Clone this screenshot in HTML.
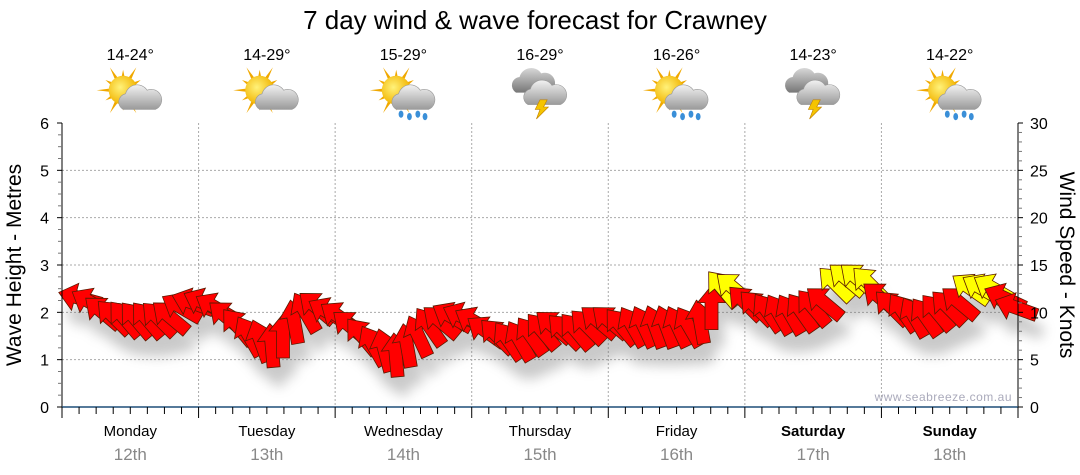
<!DOCTYPE html>
<html><head><meta charset="utf-8"><style>
body{margin:0;background:#fff;font-family:"Liberation Sans",sans-serif}
svg{display:block}
</style></head><body>
<svg id="chart" width="1080" height="475" xmlns="http://www.w3.org/2000/svg" font-family="Liberation Sans, sans-serif">
<defs>
<filter id="sh" x="-50%" y="-50%" width="200%" height="250%"><feGaussianBlur stdDeviation="6"/></filter>
<radialGradient id="sun" cx="40%" cy="40%" r="60%"><stop offset="0" stop-color="#fff27a"/><stop offset="1" stop-color="#f2b400"/></radialGradient>
<linearGradient id="cld" x1="0" y1="0" x2="0" y2="1"><stop offset="0" stop-color="#f2f2f2"/><stop offset="1" stop-color="#9a9a9a"/></linearGradient>
<linearGradient id="dcld" x1="0" y1="0" x2="0" y2="1"><stop offset="0" stop-color="#d8d8d8"/><stop offset="1" stop-color="#777"/></linearGradient>
</defs>
<text x="535" y="29" text-anchor="middle" font-size="26" fill="#000">7 day wind &amp; wave forecast for Crawney</text>
<g id="grid"></g>
<g id="shadows" filter="url(#sh)" opacity="0.35"></g>
<g id="arrows"></g>
<g id="axes"></g>
<g id="icons"></g>
<text transform="translate(21,265) rotate(-90)" text-anchor="middle" font-size="21" fill="#000">Wave Height - Metres</text>
<text transform="translate(1060,265) rotate(90)" text-anchor="middle" font-size="21" fill="#000">Wind Speed - Knots</text>
<text x="1012" y="401" text-anchor="end" font-size="12" fill="#aab" letter-spacing="0.5">www.seabreeze.com.au</text>
</svg>
<script>
const days=["Monday","Tuesday","Wednesday","Thursday","Friday","Saturday","Sunday"];
const dates=["12th","13th","14th","15th","16th","17th","18th"];
const temps=["14-24°","14-29°","15-29°","16-29°","16-26°","14-23°","14-22°"];
const weather=["partly","partly","showers","storm","showers","storm","showers"];
const leftTicks=[0,1,2,3,4,5,6];
const rightTicks=[0,5,10,15,20,25,30];
const windSpeed=[11.5,11,10,9.5,9.3,9.2,9.2,9.3,9.5,10.5,11,11,
10.5,9.5,8.5,7.5,7,6.5,7.5,9,10,10.5,10,9.5,
8.5,7.5,6.5,6,5.5,6.5,7.5,8.5,9,9.5,9.5,9,
8,7.5,7,7,7.5,8,8.5,8,8,8.5,9,9,
8.5,8.5,8.5,8.5,8.5,8.5,8.5,9,10.5,12.5,12.5,11,
10.5,10,9.8,9.8,10,10.5,11,13,13.5,13.5,13,11.5,
10.5,10,9.5,9.5,10,10.5,11,12.5,12.5,12.5,11.5,10.5];
const windDir=[165,150,140,135,130,130,130,135,140,150,160,155,
150,140,130,120,110,95,90,100,120,140,150,145,
140,130,120,105,95,100,115,125,140,150,155,150,
145,135,125,120,125,130,140,135,130,135,140,140,
130,120,115,110,110,115,120,100,90,130,140,135,
135,125,120,120,125,130,140,135,140,140,135,140,
135,125,120,125,130,135,140,145,150,150,155,160];
const NS="http://www.w3.org/2000/svg";
const X0=62,X1=1018,Y0=407,Yt=123;
const dayW=(X1-X0)/7;
const yM=v=>Y0-(v/6)*(Y0-Yt);
const yK=v=>Y0-(v/30)*(Y0-Yt);
const xT=i=>X0+18+i*(X1-X0-20)/(windSpeed.length-1);
function mk(tag,attrs,parent){const e=document.createElementNS(NS,tag);for(const k in attrs)e.setAttribute(k,attrs[k]);parent.appendChild(e);return e;}
const grid=document.getElementById('grid'),axes=document.getElementById('axes');
leftTicks.forEach(v=>{if(v>0&&v<6){const l=mk('line',{x1:X0,x2:X1,y1:yM(v),y2:yM(v),stroke:'#aaa','stroke-dasharray':'2,2'},grid);

}});
for(let d=1;d<7;d++){const l=mk('line',{x1:X0+d*dayW,x2:X0+d*dayW,y1:Yt,y2:Y0,stroke:'#aaa','stroke-dasharray':'2,2'},grid);

}
mk('line',{x1:X0,x2:X0,y1:Yt,y2:Y0+1,stroke:'#000'},axes);
mk('line',{x1:X1,x2:X1,y1:Yt,y2:Y0+1,stroke:'#000'},axes);
mk('line',{x1:X0,x2:X1,y1:Y0,y2:Y0,stroke:'#1f4e79','stroke-width':1.5},axes);
for(let v=0;v<=6;v+=0.25){const maj=v%1===0;mk('line',{x1:X0-(maj?5:4),x2:X0,y1:yM(v),y2:yM(v),stroke:maj?'#000':'#777'},axes);}
for(let v=0;v<=30;v+=1){const maj=v%5===0;mk('line',{x1:X1,x2:X1+(maj?5:4),y1:yK(v),y2:yK(v),stroke:maj?'#000':'#777'},axes);}
leftTicks.forEach(v=>{const t=mk('text',{x:49,y:yM(v)+6,'text-anchor':'end','font-size':16},axes);t.textContent=v;

});
rightTicks.forEach(v=>{const t=mk('text',{x:1030,y:yK(v)+6,'font-size':16},axes);t.textContent=v;

});
for(let i=0;i<=56;i++){const x=X0+i*dayW/8;const maj=i%8===0;mk('line',{x1:x,x2:x,y1:Y0,y2:Y0+(maj?11:7),stroke:'#000'},axes);}
days.forEach((d,i)=>{const cx=X0+(i+0.5)*dayW;
const t=mk('text',{x:cx,y:436,'text-anchor':'middle','font-size':15,'font-weight':i>=5?'bold':'normal'},axes);t.textContent=d;


const t2=mk('text',{x:cx,y:460,'text-anchor':'middle','font-size':17,fill:'#888'},axes);t2.textContent=dates[i];


const t3=mk('text',{x:cx,y:60,'text-anchor':'middle','font-size':16},axes);t3.textContent=temps[i];


drawIcon(cx,95,weather[i]);});
function drawIcon(cx,cy,type){const g=mk('g',{transform:`translate(${cx},${cy}) scale(1.2) translate(${-cx},${-cy})`},document.getElementById('icons'));


if(type!=='storm'){const sx=cx-6,sy=cy-4;
for(let k=0;k<12;k++){const a=k*Math.PI/6;const r=k%2?17:22;
mk('polygon',{points:`${sx+Math.cos(a-0.15)*10},${sy+Math.sin(a-0.15)*10} ${sx+Math.cos(a)*r},${sy+Math.sin(a)*r} ${sx+Math.cos(a+0.15)*10},${sy+Math.sin(a+0.15)*10}`,fill:'#f0a800'},g);}
mk('circle',{cx:sx,cy:sy,r:12,fill:'url(#sun)'},g);
mk('path',{d:`M${cx-6},${cy+12} a7,7 0 0 1 2,-13 a10,10 0 0 1 18,-3 a8,8 0 0 1 7,16 z`,fill:'url(#cld)',stroke:'#999','stroke-width':0.5},g);
if(type==='showers'){[[-2,16],[5,18],[12,16],[18,18]].forEach(p=>mk('ellipse',{cx:cx+p[0],cy:cy+p[1],rx:2,ry:3,fill:'#3a8fd8'},g));}
}else{
mk('path',{d:`M${cx-20},${cy-2} a7,7 0 0 1 3,-13 a10,10 0 0 1 18,-3 a8,8 0 0 1 6,16 z`,fill:'url(#dcld)'},g);
mk('path',{d:`M${cx-10},${cy+8} a7,7 0 0 1 2,-13 a10,10 0 0 1 18,-3 a8,8 0 0 1 7,16 z`,fill:'url(#cld)',stroke:'#999','stroke-width':0.5},g);
mk('polygon',{points:`${cx},${cy+4} ${cx+6},${cy+4} ${cx+3},${cy+10} ${cx+7},${cy+10} ${cx-3},${cy+20} ${cx},${cy+12} ${cx-4},${cy+12}`,fill:'#f5c400',stroke:'#c08000','stroke-width':0.5},g);}}
const arrowsG=document.getElementById('arrows'),shG=document.getElementById('shadows');
function arrowPts(){return [[-22,0],[-5,-14],[-5,-6.5],[22,-6.5],[22,6.5],[-5,6.5],[-5,14]];}
windSpeed.forEach((s,i)=>{const x=xT(i),y=yK(s);const a=windDir[i];
const tr=`translate(${x},${y}) rotate(${-(a-180)})`;
const pts=arrowPts().map(p=>p.join(',')).join(' ');
mk('polygon',{points:pts,transform:`translate(${x+6},${y+18}) rotate(${-(a-180)})`,fill:'#666'},shG);
const p=mk('polygon',{points:pts,transform:tr,fill:s>=12?'#ffff00':'#ff0000',stroke:'#5a1a00','stroke-width':0.8},arrowsG);

});
</script>
</body></html>
